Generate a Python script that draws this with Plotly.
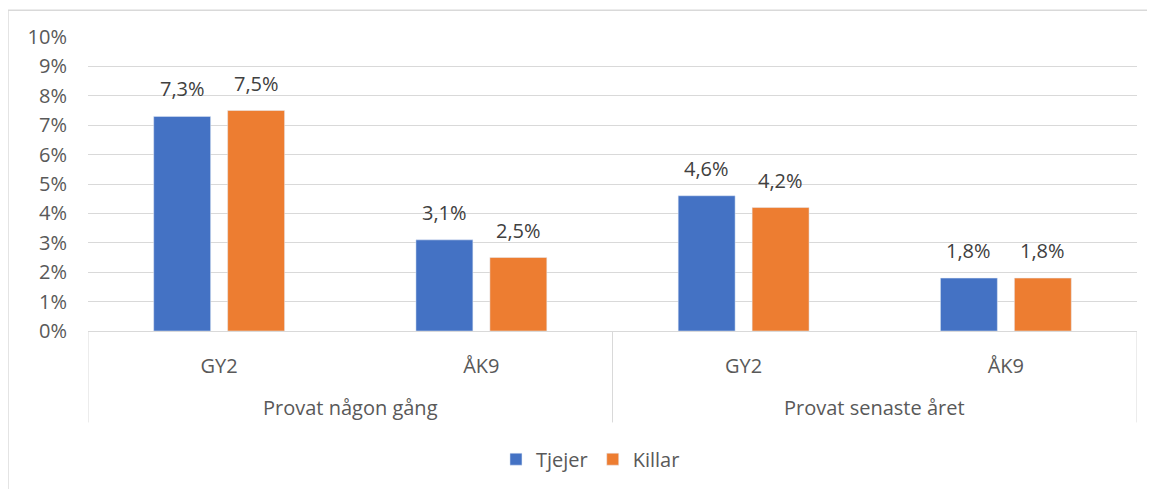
import plotly.graph_objects as go

groups = ["Provat någon gång", "Provat senaste året"]
subcats = ["GY2", "ÅK9", "GY2", "ÅK9"]
tjejer = [7.3, 3.1, 4.6, 1.8]
killar = [7.5, 2.5, 4.2, 1.8]
yticks = [0, 1, 2, 3, 4, 5, 6, 7, 8, 9, 10]

def fmt(v):
    return f"{v:.1f}%".replace(".", ",")

xpos = list(range(len(subcats)))
font_fam = "Open Sans, Noto Sans, sans-serif"
FS = 20
BARGAP = 0.436

fig = go.Figure()
fig.add_trace(go.Bar(x=xpos, y=tjejer, name="Tjejer", marker_color="#4472C4"))
fig.add_trace(go.Bar(x=xpos, y=killar, name="Killar", marker_color="#ED7D31"))

# data labels above each bar (bar centres follow plotly's grouped layout)
slot = (1 - BARGAP) / 2
for series, sign in [(tjejer, -1), (killar, 1)]:
    for xi, v in zip(xpos, series):
        fig.add_annotation(x=xi + sign * slot / 2, xref="x", y=v, yref="y", text=fmt(v),
                           showarrow=False, yanchor="bottom", yshift=12,
                           font=dict(size=FS, color="#404040"))

fig.update_layout(
    width=1139, height=481,
    margin=dict(l=80, r=10, t=29, b=156),
    paper_bgcolor="white", plot_bgcolor="white",
    barmode="group", bargap=BARGAP, bargroupgap=0.23,
    font=dict(family=font_fam, color="#595959", size=FS),
    showlegend=True,
    legend=dict(orientation="h", x=0.479, xanchor="center", y=-0.436, yanchor="middle",
                font=dict(size=FS, color="#595959"), traceorder="normal"),
)
fig.update_xaxes(range=[-0.5, 3.5], tickvals=xpos, ticktext=subcats, showgrid=False,
                 zeroline=False, showline=True, linecolor="#d9d9d9", ticks="",
                 tickfont=dict(size=FS, color="#595959"), ticklabelstandoff=17)
fig.update_yaxes(range=[0, 10], tickvals=yticks, ticktext=[f"{v}%" for v in yticks],
                 showgrid=True, gridcolor="#d9d9d9", gridwidth=1, zeroline=False,
                 tickfont=dict(size=FS, color="#595959"), ticks="", ticklabelstandoff=20)

# category dividers
for xv in [-0.5, 1.5, 3.5]:
    fig.add_shape(type="line", xref="x", yref="paper", x0=xv, x1=xv, y0=0, y1=-0.311,
                  line=dict(color="#d9d9d9", width=1))
# group labels
for i, g in enumerate(groups):
    fig.add_annotation(x=2 * i + 0.5, xref="x", y=-0.26, yref="paper", text=g,
                       showarrow=False, font=dict(size=FS, color="#595959"), yanchor="middle")
# outer chart border
fig.add_shape(type="line", xref="paper", yref="paper", x0=-0.0763, x1=1.01, y0=1.091, y1=1.091,
              line=dict(color="#d9d9d9", width=1.5))
fig.add_shape(type="line", xref="paper", yref="paper", x0=-0.0763, x1=-0.0763, y0=1.091, y1=-0.56,
              line=dict(color="#d9d9d9", width=1.5))

fig.write_html("out.html")
